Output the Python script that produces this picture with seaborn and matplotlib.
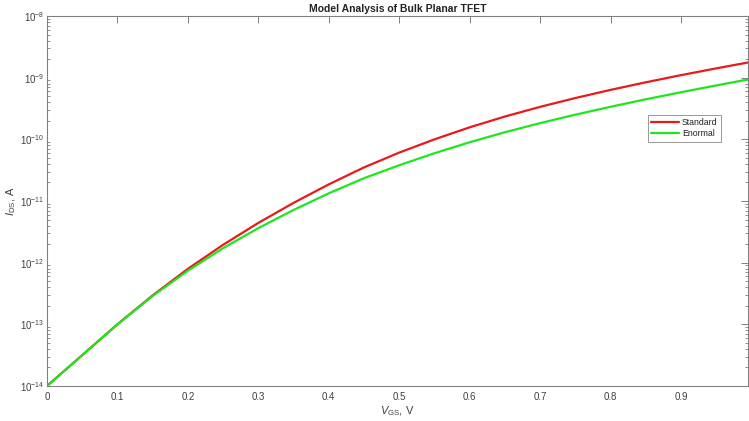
import matplotlib
matplotlib.use("Agg")
import matplotlib.pyplot as plt
import matplotlib.ticker as mticker
import numpy as np
import pandas as pd
import seaborn as sns

# Gate voltage samples (V)
vgs = [0.00, 0.05, 0.10, 0.15, 0.20, 0.25, 0.30, 0.35, 0.40, 0.45, 0.50,
       0.55, 0.60, 0.65, 0.70, 0.75, 0.80, 0.85, 0.90, 0.95, 0.995]

# Drain current, log10(A)
log_ids_standard = [-14.00, -13.50, -13.00, -12.53, -12.10, -11.71, -11.355,
                    -11.03, -10.73, -10.455, -10.215, -10.00, -9.805, -9.63,
                    -9.473, -9.33, -9.198, -9.075, -8.959, -8.849, -8.754]
log_ids_enormal = [-14.00, -13.50, -13.00, -12.54, -12.13, -11.765, -11.44,
                   -11.145, -10.875, -10.63, -10.42, -10.225, -10.047, -9.885,
                   -9.737, -9.60, -9.472, -9.351, -9.236, -9.126, -9.029]

series_names = ["Standard", "Enormal"]
series_colors = ["#e81a1a", "#1ee61e"]
x_ticks = [0, 0.1, 0.2, 0.3, 0.4, 0.5, 0.6, 0.7, 0.8, 0.9]

df = pd.DataFrame({
    "VGS": vgs * 2,
    "IDS": list(10.0 ** np.array(log_ids_standard)) + list(10.0 ** np.array(log_ids_enormal)),
    "model": [series_names[0]] * len(vgs) + [series_names[1]] * len(vgs),
})

sns.set_style("white")
plt.rcParams["font.family"] = ["Liberation Sans", "DejaVu Sans"]
plt.rcParams["mathtext.fontset"] = "custom"
plt.rcParams["mathtext.rm"] = "Liberation Sans"
plt.rcParams["mathtext.it"] = "Liberation Sans:italic"

axis_gray = "#808080"
label_gray = "#404040"

fig = plt.figure(figsize=(7.49, 4.21), dpi=100)
ax = fig.add_axes([47 / 749, 35 / 421, 701 / 749, 370 / 421])

sns.lineplot(data=df, x="VGS", y="IDS", hue="model", hue_order=series_names,
             palette=series_colors, linewidth=1.6, ax=ax)

ax.set_yscale("log")
ax.set_xlim(0, 0.995)
ax.set_ylim(1e-14, 1e-8)
ax.set_xticks(x_ticks)
ax.set_xticklabels([f"{t:g}" for t in x_ticks])
ax.yaxis.set_major_locator(mticker.LogLocator(base=10, numticks=20))
ax.yaxis.set_minor_locator(mticker.LogLocator(base=10, subs=np.arange(2, 10), numticks=20))
ax.yaxis.set_minor_formatter(mticker.NullFormatter())

for spine in ax.spines.values():
    spine.set_visible(True)
    spine.set_color(axis_gray)
    spine.set_linewidth(0.8)

ax.tick_params(axis="both", which="major", direction="in", length=5, width=0.7,
               color=axis_gray, labelcolor=label_gray, labelsize=7,
               top=True, right=True)
ax.tick_params(axis="y", which="minor", direction="in", length=2.5, width=0.6,
               color=axis_gray, left=True, right=True)
ax.tick_params(axis="x", which="major", pad=4)
ax.tick_params(axis="y", which="major", pad=2)

ax.set_title("Model Analysis of Bulk Planar TFET", fontsize=7.5,
             fontweight="bold", color="#222222", pad=3)
ax.set_xlabel("$\\it{V}_{\\rm GS}$, V", fontsize=8, color=label_gray, labelpad=2)
ax.set_ylabel("$\\it{I}_{\\rm DS}$, A", fontsize=8, color=label_gray)
ax.yaxis.set_label_coords(-0.042, 0.5)

leg = ax.legend(title=None, loc="upper right", bbox_to_anchor=(0.961, 0.733),
                fontsize=6.3, frameon=True, fancybox=False, handlelength=3.3,
                handletextpad=0.3, borderpad=0.35, labelspacing=0.3,
                borderaxespad=0)
leg.get_frame().set_edgecolor(axis_gray)
leg.get_frame().set_linewidth(0.7)
for txt in leg.get_texts():
    txt.set_color("#222222")

fig.savefig("out.png", dpi=100, facecolor="white")
